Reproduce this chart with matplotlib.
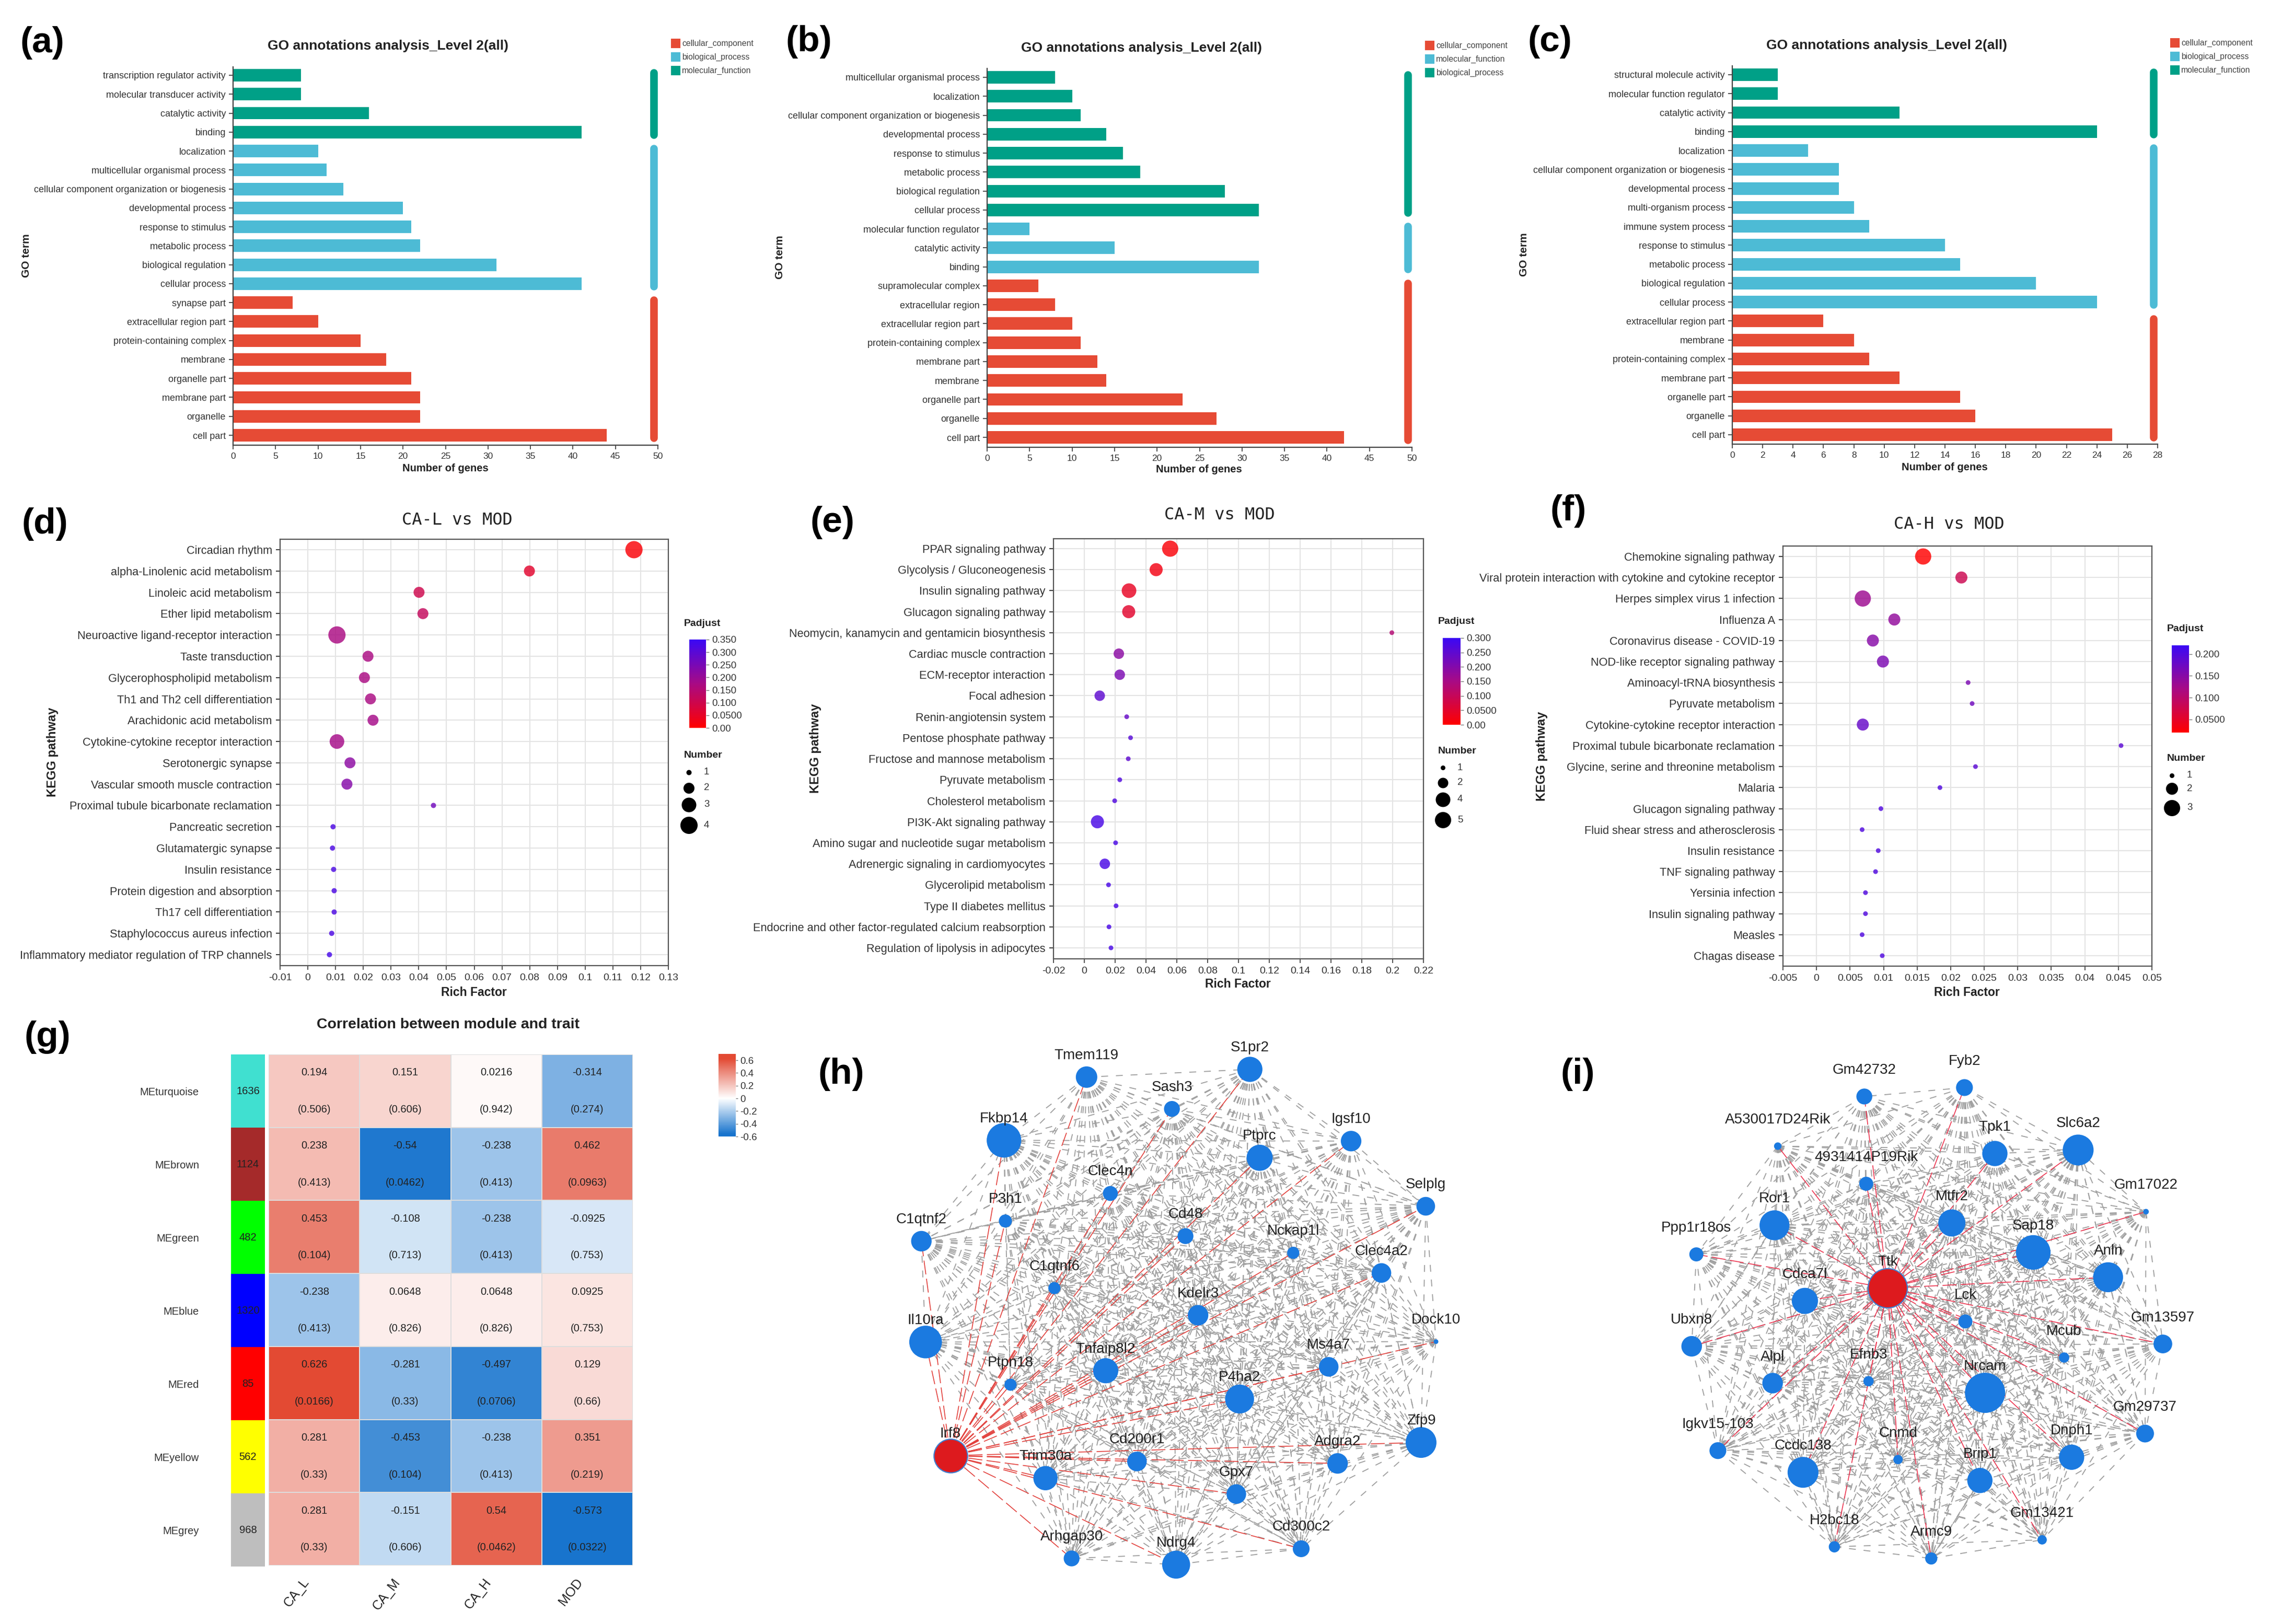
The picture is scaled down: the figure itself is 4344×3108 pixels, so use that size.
from itertools import combinations

import matplotlib
matplotlib.use('Agg')
import matplotlib.pyplot as plt
from matplotlib.cm import ScalarMappable
from matplotlib.collections import LineCollection
from matplotlib.colors import LinearSegmentedColormap, Normalize

plt.rcParams['font.family'] = ['Liberation Sans', 'DejaVu Sans']

W, H = 4344, 3108
DPI = 100

# GO bars, top to bottom
go_a_terms = ['transcription regulator activity', 'molecular transducer activity', 'catalytic activity', 'binding',
              'localization', 'multicellular organismal process', 'cellular component organization or biogenesis',
              'developmental process', 'response to stimulus', 'metabolic process', 'biological regulation',
              'cellular process', 'synapse part', 'extracellular region part', 'protein-containing complex',
              'membrane', 'organelle part', 'membrane part', 'organelle', 'cell part']
go_a_genes = [8, 8, 16, 41, 10, 11, 13, 20, 21, 22, 31, 41, 7, 10, 15, 18, 21, 22, 22, 44]
go_a_groups = [4, 8, 8]
go_a_legend = ['cellular_component', 'biological_process', 'molecular_function']

go_b_terms = ['multicellular organismal process', 'localization', 'cellular component organization or biogenesis',
              'developmental process', 'response to stimulus', 'metabolic process', 'biological regulation',
              'cellular process', 'molecular function regulator', 'catalytic activity', 'binding',
              'supramolecular complex', 'extracellular region', 'extracellular region part',
              'protein-containing complex', 'membrane part', 'membrane', 'organelle part', 'organelle', 'cell part']
go_b_genes = [8, 10, 11, 14, 16, 18, 28, 32, 5, 15, 32, 6, 8, 10, 11, 13, 14, 23, 27, 42]
go_b_groups = [8, 3, 9]
go_b_legend = ['cellular_component', 'molecular_function', 'biological_process']

go_c_terms = ['structural molecule activity', 'molecular function regulator', 'catalytic activity', 'binding',
              'localization', 'cellular component organization or biogenesis', 'developmental process',
              'multi-organism process', 'immune system process', 'response to stimulus', 'metabolic process',
              'biological regulation', 'cellular process', 'extracellular region part', 'membrane',
              'protein-containing complex', 'membrane part', 'organelle part', 'organelle', 'cell part']
go_c_genes = [3, 3, 11, 24, 5, 7, 7, 8, 9, 14, 15, 20, 24, 6, 8, 9, 11, 15, 16, 25]
go_c_groups = [4, 9, 7]
go_c_legend = ['cellular_component', 'biological_process', 'molecular_function']

# KEGG bubbles, top to bottom
kegg_d_terms = ['Circadian rhythm', 'alpha-Linolenic acid metabolism', 'Linoleic acid metabolism',
                'Ether lipid metabolism', 'Neuroactive ligand-receptor interaction', 'Taste transduction',
                'Glycerophospholipid metabolism', 'Th1 and Th2 cell differentiation', 'Arachidonic acid metabolism',
                'Cytokine-cytokine receptor interaction', 'Serotonergic synapse', 'Vascular smooth muscle contraction',
                'Proximal tubule bicarbonate reclamation', 'Pancreatic secretion', 'Glutamatergic synapse',
                'Insulin resistance', 'Protein digestion and absorption', 'Th17 cell differentiation',
                'Staphylococcus aureus infection', 'Inflammatory mediator regulation of TRP channels']
kegg_d_rich = [0.1176, 0.0799, 0.0401, 0.0415, 0.0105, 0.0217, 0.0204, 0.0226, 0.0235, 0.0105,
               0.0152, 0.0141, 0.0453, 0.0091, 0.0089, 0.0093, 0.0095, 0.0095, 0.0086, 0.0078]
kegg_d_number = [4, 2, 2, 2, 4, 2, 2, 2, 2, 3, 2, 2, 1, 1, 1, 1, 1, 1, 1, 1]
kegg_d_padj = [0.01, 0.06, 0.10, 0.12, 0.17, 0.17, 0.17, 0.17, 0.18, 0.18,
               0.22, 0.23, 0.26, 0.32, 0.32, 0.32, 0.32, 0.32, 0.32, 0.33]

kegg_e_terms = ['PPAR signaling pathway', 'Glycolysis / Gluconeogenesis', 'Insulin signaling pathway',
                'Glucagon signaling pathway', 'Neomycin, kanamycin and gentamicin biosynthesis',
                'Cardiac muscle contraction', 'ECM-receptor interaction', 'Focal adhesion', 'Renin-angiotensin system',
                'Pentose phosphate pathway', 'Fructose and mannose metabolism', 'Pyruvate metabolism',
                'Cholesterol metabolism', 'PI3K-Akt signaling pathway', 'Amino sugar and nucleotide sugar metabolism',
                'Adrenergic signaling in cardiomyocytes', 'Glycerolipid metabolism', 'Type II diabetes mellitus',
                'Endocrine and other factor-regulated calcium reabsorption', 'Regulation of lipolysis in adipocytes']
kegg_e_rich = [0.0557, 0.0466, 0.029, 0.0288, 0.1995, 0.0224, 0.023, 0.010, 0.0275, 0.030,
               0.0285, 0.023, 0.0197, 0.0085, 0.0203, 0.0133, 0.0157, 0.0206, 0.016, 0.0173]
kegg_e_number = [5, 3, 4, 3, 1, 2, 2, 2, 1, 1, 1, 1, 1, 3, 1, 2, 1, 1, 1, 1]
kegg_e_padj = [0.01, 0.02, 0.04, 0.05, 0.13, 0.19, 0.21, 0.25, 0.24, 0.26,
               0.25, 0.27, 0.27, 0.28, 0.28, 0.28, 0.28, 0.28, 0.28, 0.28]

kegg_f_terms = ['Chemokine signaling pathway', 'Viral protein interaction with cytokine and cytokine receptor',
                'Herpes simplex virus 1 infection', 'Influenza A', 'Coronavirus disease - COVID-19',
                'NOD-like receptor signaling pathway', 'Aminoacyl-tRNA biosynthesis', 'Pyruvate metabolism',
                'Cytokine-cytokine receptor interaction', 'Proximal tubule bicarbonate reclamation',
                'Glycine, serine and threonine metabolism', 'Malaria', 'Glucagon signaling pathway',
                'Fluid shear stress and atherosclerosis', 'Insulin resistance', 'TNF signaling pathway',
                'Yersinia infection', 'Insulin signaling pathway', 'Measles', 'Chagas disease']
kegg_f_rich = [0.0159, 0.0216, 0.0069, 0.0116, 0.0084, 0.0099, 0.0226, 0.0232, 0.0069, 0.0454,
               0.0237, 0.0184, 0.0096, 0.0068, 0.0092, 0.0088, 0.0073, 0.0073, 0.0068, 0.0098]
kegg_f_number = [3, 2, 3, 2, 2, 2, 1, 1, 2, 1, 1, 1, 1, 1, 1, 1, 1, 1, 1, 1]
kegg_f_padj = [0.02, 0.08, 0.13, 0.14, 0.15, 0.16, 0.16, 0.17, 0.18, 0.19,
               0.19, 0.2, 0.2, 0.2, 0.2, 0.2, 0.2, 0.2, 0.2, 0.2]

# module-trait heatmap
modules = ['MEturquoise', 'MEbrown', 'MEgreen', 'MEblue', 'MEred', 'MEyellow', 'MEgrey']
module_sizes = [1636, 1124, 482, 1320, 85, 562, 968]
module_colors = ['#40e0d0', '#a52a2a', '#00ff00', '#0000ff', '#ff0000', '#ffff00', '#bebebe']
traits = ['CA_L', 'CA_M', 'CA_H', 'MOD']
trait_r = [[0.194, 0.151, 0.0216, -0.314],
           [0.238, -0.54, -0.238, 0.462],
           [0.453, -0.108, -0.238, -0.0925],
           [-0.238, 0.0648, 0.0648, 0.0925],
           [0.626, -0.281, -0.497, 0.129],
           [0.281, -0.453, -0.238, 0.351],
           [0.281, -0.151, 0.54, -0.573]]
trait_p = [['0.506', '0.606', '0.942', '0.274'],
           ['0.413', '0.0462', '0.413', '0.0963'],
           ['0.104', '0.713', '0.413', '0.753'],
           ['0.413', '0.826', '0.826', '0.753'],
           ['0.0166', '0.33', '0.0706', '0.66'],
           ['0.33', '0.104', '0.413', '0.219'],
           ['0.33', '0.606', '0.0462', '0.0322']]

# networks: layout position and node radius, first node is the hub
net_h_genes = ['Irf8', 'Tmem119', 'S1pr2', 'Sash3', 'Fkbp14', 'Igsf10', 'Ptprc', 'Clec4n', 'Selplg', 'P3h1',
               'C1qtnf2', 'Cd48', 'Nckap1l', 'Clec4a2', 'C1qtnf6', 'Kdelr3', 'Il10ra', 'Dock10', 'Ms4a7',
               'Tnfaip8l2', 'Ptpn18', 'P4ha2', 'Zfp9', 'Cd200r1', 'Adgra2', 'Trim30a', 'Gpx7', 'Cd300c2',
               'Arhgap30', 'Ndrg4']
net_h_x = [312, 604, 954, 787, 427, 1171, 975, 655, 1331, 430, 250, 816, 1047, 1236, 535, 843, 259, 1353, 1123,
           645, 441, 932, 1321, 712, 1142, 516, 925, 1064, 572, 796]
net_h_y = [1126, 150, 130, 232, 313, 315, 358, 450, 483, 521, 573, 560, 603, 655, 694, 764, 833, 832, 897,
           907, 943, 980, 1092, 1141, 1146, 1184, 1225, 1366, 1391, 1407]
net_h_r = [36, 23, 27, 17, 37, 22, 28, 16, 20, 14, 22, 17, 13, 21, 13, 22, 35, 5, 21,
           27, 13, 31, 33, 21, 22, 26, 21, 18, 17, 30]

net_i_genes = ['Ttk', 'Fyb2', 'Gm42732', 'A530017D24Rik', 'Tpk1', 'Slc6a2', '4931414P19Rik', 'Gm17022', 'Ror1',
               'Mtfr2', 'Ppp1r18os', 'Sap18', 'Anln', 'Cdca7l', 'Lck', 'Ubxn8', 'Gm13597', 'Mcub', 'Alpl', 'Efnb3',
               'Nrcam', 'Gm29737', 'Igkv15-103', 'Ccdc138', 'Cnmd', 'Dnph1', 'Brip1', 'H2bc18', 'Armc9', 'Gm13421']
net_i_x = [751, 915, 701, 516, 980, 1158, 705, 1303, 509, 888, 342, 1062, 1222, 574, 917, 332, 1339, 1128, 505,
           710, 959, 1301, 388, 570, 773, 1144, 948, 637, 844, 1081]
net_i_y = [694, 177, 200, 328, 347, 338, 425, 497, 532, 526, 607, 602, 666, 727, 780, 844, 838, 873, 939,
           934, 964, 1069, 1113, 1169, 1136, 1130, 1190, 1361, 1391, 1343]
net_i_r = [42, 18, 17, 8, 27, 33, 15, 6, 32, 29, 15, 37, 32, 28, 15, 22, 20, 11, 22,
           11, 43, 19, 18, 33, 10, 27, 27, 12, 13, 10]

RED, BLUE, GREEN = '#E64B35', '#4DBBD5', '#00A087'
bubble_cmap = LinearSegmentedColormap.from_list('padj', ['#ff0000', '#a80a85', '#3a08f5'])
heat_cmap = LinearSegmentedColormap.from_list(
    'corr', [(0, '#1874cd'), (0.03, '#1874cd'), (0.4615, '#ffffff'), (0.817, '#e97c6c'), (0.943, '#e34a33'),
             (1, '#e34a33')])

fig = plt.figure(figsize=(W / DPI, H / DPI), dpi=DPI)


def px_axes(left, top, right, bottom):
    return fig.add_axes([left / W, 1 - bottom / H, (right - left) / W, (bottom - top) / H])


# whole-figure layer in pixels for panel letters and free labels
page = px_axes(0, 0, W, H)
page.set_xlim(0, W)
page.set_ylim(H, 0)
page.axis('off')


def rows_to_ylim(ax, first, last, top, bottom, n=20):
    pitch = (last - first) / (n - 1)
    ax.set_ylim((bottom - first) / pitch, (top - first) / pitch)


def go_panel(rect, rows, terms, genes, groups, legend, xmax, xstep, title_xy, xlabel_xy, ylabel_xy, leg_x, leg_y):
    ax = px_axes(*rect)
    ax.patch.set_alpha(0)
    colors = []
    for n, c in zip(groups, [GREEN, BLUE, RED]):
        colors += [c] * n
    ax.barh(range(len(terms)), genes, height=0.66, color=colors)
    ax.set_xlim(0, xmax)
    rows_to_ylim(ax, rows[0], rows[1], rect[1], rect[3])
    ax.set_yticks(range(len(terms)), terms, fontsize=13, color='#333333')
    ax.set_xticks(range(0, xmax + 1, xstep))
    ax.tick_params(axis='x', labelsize=12.5, labelcolor='#333333', length=6, width=1.3, color='#444444', pad=4)
    ax.tick_params(axis='y', length=6, width=1.3, color='#444444', pad=4)
    for s in ['top', 'right']:
        ax.spines[s].set_visible(False)
    for s in ['left', 'bottom']:
        ax.spines[s].set_linewidth(1.6)
        ax.spines[s].set_color('#444444')
    # group strips at the right edge
    start = 0
    for n, c in zip(groups, [GREEN, BLUE, RED]):
        ax.plot([xmax * 0.99] * 2, [start - 0.13, start + n - 1 + 0.13], color=c, lw=10.5,
                solid_capstyle='round', clip_on=False)
        start += n
    page.text(*title_xy, 'GO annotations analysis_Level 2(all)', fontsize=19, fontweight='bold',
              ha='center', va='center', color='#222222')
    page.text(*xlabel_xy, 'Number of genes', fontsize=14.5, fontweight='bold', ha='center', va='center',
              color='#222222')
    page.text(*ylabel_xy, 'GO term', fontsize=15, fontweight='bold', ha='center', va='center', rotation=90,
              color='#222222')
    for label, c, y in zip(legend, [RED, BLUE, GREEN], leg_y):
        page.scatter([leg_x + 9], [y], marker='s', s=170, color=c, linewidths=0)
        page.text(leg_x + 21, y, label, fontsize=11.3, va='center', color='#444444')


go_panel((446, 128, 1259, 852), (144, 833), go_a_terms, go_a_genes, go_a_groups, go_a_legend, 50, 5,
         (742, 88), (852, 896), (50, 489), 1284, (83, 109, 135))
go_panel((1889, 131, 2702, 856), (148, 837), go_b_terms, go_b_genes, go_b_groups, go_b_legend, 50, 5,
         (2184, 92), (2294, 899), (1492, 492), 2727, (87, 113, 139))
go_panel((3315, 126, 4129, 850), (143, 832), go_c_terms, go_c_genes, go_c_groups, go_c_legend, 28, 2,
         (3611, 87), (3721, 894), (2917, 487), 4153, (82, 108, 134))


def fmt_tick(v):
    return f'{v:g}'


def kegg_panel(rect, rows, terms, rich, number, padj, xticks, radii, vlim, cbar_ticks, cbar_labels, cbar_rect,
               title, title_xy, xlabel_xy, ylabel_xy, legend_x, padjust_y, number_y, key_numbers, key_ys, key_text_x):
    ax = px_axes(*rect)
    ax.set_axisbelow(True)
    ax.grid(True, color='#e4e4e4', lw=1.5)
    sizes = [(2 * radii[n] * 72 / DPI) ** 2 for n in number]
    ax.scatter(rich, range(len(terms)), s=sizes, c=padj, cmap=bubble_cmap, vmin=vlim[0], vmax=vlim[1],
               alpha=0.82, linewidths=0, zorder=3)
    ax.set_xlim(xticks[0], xticks[-1])
    rows_to_ylim(ax, rows[0], rows[1], rect[1], rect[3])
    ax.set_yticks(range(len(terms)), terms, fontsize=15.7, color='#333333')
    ax.set_xticks(xticks, [fmt_tick(v) for v in xticks])
    ax.tick_params(axis='x', labelsize=14, labelcolor='#333333', length=6, width=1.3, color='#444444', pad=5)
    ax.tick_params(axis='y', length=6, width=1.5, color='#444444', pad=5)
    for s in ax.spines.values():
        s.set_linewidth(1.6)
        s.set_color('#555555')
    page.text(*title_xy, title, fontsize=23, family='DejaVu Sans Mono', ha='center', va='center', color='#222222')
    page.text(*xlabel_xy, 'Rich Factor', fontsize=16.5, fontweight='bold', ha='center', va='center', color='#222222')
    page.text(*ylabel_xy, 'KEGG pathway', fontsize=17, fontweight='bold', ha='center', va='center', rotation=90,
              color='#222222')
    page.text(legend_x, padjust_y, 'Padjust', fontsize=14, fontweight='bold', va='center', color='#222222')
    page.text(legend_x, number_y, 'Number', fontsize=14, fontweight='bold', va='center', color='#222222')
    cax = px_axes(*cbar_rect)
    cb = fig.colorbar(ScalarMappable(Normalize(*vlim), bubble_cmap), cax=cax, ticks=cbar_ticks)
    cb.ax.set_yticklabels(cbar_labels, fontsize=13.5, color='#333333')
    cb.ax.tick_params(length=4, width=1, color='#777777', pad=4)
    cb.outline.set_visible(False)
    for n, y in zip(key_numbers, key_ys):
        page.scatter([legend_x + 9], [y], s=(2 * radii[n] * 72 / DPI) ** 2, color='black', linewidths=0)
        page.text(key_text_x, y, str(n), fontsize=13.5, va='center', color='#333333')


kegg_panel((536, 1032, 1279, 1848), (1052, 1827), kegg_d_terms, kegg_d_rich, kegg_d_number, kegg_d_padj,
           [-0.01, 0, 0.01, 0.02, 0.03, 0.04, 0.05, 0.06, 0.07, 0.08, 0.09, 0.1, 0.11, 0.12, 0.13],
           {1: 5, 2: 10.5, 3: 14, 4: 16.5}, (0, 0.35),
           [0, 0.05, 0.1, 0.15, 0.2, 0.25, 0.3, 0.35],
           ['0.00', '0.0500', '0.100', '0.150', '0.200', '0.250', '0.300', '0.350'], (1319, 1224, 1351, 1393),
           'CA-L vs MOD', (875, 995), (907, 1899), (100, 1439), 1309, 1193, 1446, [1, 2, 3, 4],
           [1478, 1508, 1540, 1579], 1347)
kegg_panel((2016, 1031, 2724, 1835), (1050, 1814), kegg_e_terms, kegg_e_rich, kegg_e_number, kegg_e_padj,
           [-0.02, 0, 0.02, 0.04, 0.06, 0.08, 0.1, 0.12, 0.14, 0.16, 0.18, 0.2, 0.22],
           {1: 4.5, 2: 10, 3: 12.5, 4: 14, 5: 15.5}, (0, 0.30),
           [0, 0.05, 0.1, 0.15, 0.2, 0.25, 0.3],
           ['0.00', '0.0500', '0.100', '0.150', '0.200', '0.250', '0.300'], (2761, 1221, 2795, 1387),
           'CA-M vs MOD', (2334, 986), (2369, 1884), (1560, 1432), 2752, 1189, 1438, [1, 2, 4, 5],
           [1469, 1498, 1530, 1569], 2789)
kegg_panel((3412, 1045, 4118, 1849), (1065, 1829), kegg_f_terms, kegg_f_rich, kegg_f_number, kegg_f_padj,
           [-0.005, 0, 0.005, 0.01, 0.015, 0.02, 0.025, 0.03, 0.035, 0.04, 0.045, 0.05],
           {1: 4.5, 2: 11.5, 3: 15.5}, (0.02, 0.22),
           [0.05, 0.1, 0.15, 0.2], ['0.0500', '0.100', '0.150', '0.200'], (4156, 1235, 4189, 1402),
           'CA-H vs MOD', (3730, 1003), (3764, 1899), (2950, 1447), 4147, 1204, 1452, [1, 2, 3],
           [1484, 1509, 1546], 4185)

# (g) module-trait heatmap
heat = px_axes(514, 2018, 1211, 2996)
heat.pcolormesh(trait_r, cmap=heat_cmap, vmin=-0.6, vmax=0.7, edgecolors='#dddddd', linewidth=1.2)
heat.set_xlim(0, len(traits))
heat.set_ylim(len(modules), 0)
heat.set_xticks([])
heat.set_yticks([])
for s in heat.spines.values():
    s.set_visible(False)
for i, (row_r, row_p) in enumerate(zip(trait_r, trait_p)):
    for j, (r, p) in enumerate(zip(row_r, row_p)):
        heat.text(j + 0.5, i + 0.25, f'{r:g}', fontsize=14.5, ha='center', va='center', color='#222222')
        heat.text(j + 0.5, i + 0.755, f'({p})', fontsize=14.5, ha='center', va='center', color='#222222')
for j, name in enumerate(traits):
    heat.annotate(name, (j + 0.5, len(modules)), xytext=(-10, -20), textcoords='offset points', fontsize=18,
                  rotation=52, rotation_mode='anchor', ha='right', va='center', color='#222222',
                  annotation_clip=False)

strip = px_axes(442, 2018, 507, 2998)
strip.barh(range(len(modules)), [1] * len(modules), height=1, color=module_colors)
strip.set_xlim(0, 1)
strip.set_ylim(len(modules) - 0.5, -0.5)
strip.set_xticks([])
strip.set_yticks(range(len(modules)), modules, fontsize=14.5, color='#333333')
strip.tick_params(axis='y', length=0, pad=44)
for s in strip.spines.values():
    s.set_visible(False)
for i, n in enumerate(module_sizes):
    strip.text(0.5, i, str(n), fontsize=14.5, ha='center', va='center', color='#222222')

heat_cax = px_axes(1375, 2017, 1408, 2175)
heat_cb = fig.colorbar(ScalarMappable(Normalize(-0.6, 0.7), heat_cmap), cax=heat_cax,
                       ticks=[-0.6, -0.4, -0.2, 0, 0.2, 0.4, 0.6])
heat_cb.ax.set_yticklabels(['-0.6', '-0.4', '-0.2', '0', '0.2', '0.4', '0.6'], fontsize=13.5, color='#333333')
heat_cb.ax.tick_params(length=3, width=1, color='#777777', pad=3)
heat_cb.outline.set_visible(False)
page.text(857, 1961, 'Correlation between module and trait', fontsize=20.5, fontweight='bold', ha='center',
          va='center', color='#222222')


def network_panel(rect, genes, xs, ys, radii, x_scale, label_gap, red):
    ax = px_axes(*rect)
    ax.set_xlim(0, 1568)
    ax.set_ylim(1560, 0)
    ax.axis('off')
    pts = list(zip(xs, ys))
    gray_segs = [(pts[a], pts[b]) for a, b in combinations(range(1, len(pts)), 2)]
    red_segs = [(pts[0], p) for p in pts[1:]]
    ax.add_collection(LineCollection(gray_segs, colors='#a0a0a0', linewidths=1.35, linestyles=[(0, (7, 8))]))
    ax.add_collection(LineCollection(red_segs, colors=red, linewidths=1.2, linestyles=[(0, (16, 5))]))
    sizes = [(2 * r * x_scale * 72 / DPI) ** 2 for r in radii]
    ax.scatter(xs[1:], ys[1:], s=sizes[1:], color='#1b7ae0', linewidths=0, zorder=3)
    ax.scatter(xs[:1], ys[:1], s=sizes[:1], color='#dd1a1e', edgecolors='#3f7fd0', linewidths=1.6, zorder=3)
    for name, x, y in zip(genes, xs, ys):
        ax.text(x, y - label_gap, name, fontsize=20, ha='center', va='center', color='#222222', zorder=4)


network_panel((1540, 1950, 2940, 3108), net_h_genes, net_h_x, net_h_y, net_h_r, 0.893, 56, '#e2403c')
network_panel((2940, 1950, 4344, 3108), net_i_genes, net_i_x, net_i_y, net_i_r, 0.895, 68, '#ec3550')

panel_letters = ['(a)', '(b)', '(c)', '(d)', '(e)', '(f)', '(g)', '(h)', '(i)']
letter_x = [81, 1548, 2966, 86, 1593, 3001, 91, 1610, 3019]
letter_y = [82, 80, 80, 1003, 1000, 978, 1985, 2056, 2056]
for s, x, y in zip(panel_letters, letter_x, letter_y):
    page.text(x, y, s, fontsize=50, fontweight='bold', ha='center', va='center', color='black')

fig.savefig('out.png', dpi=DPI)
